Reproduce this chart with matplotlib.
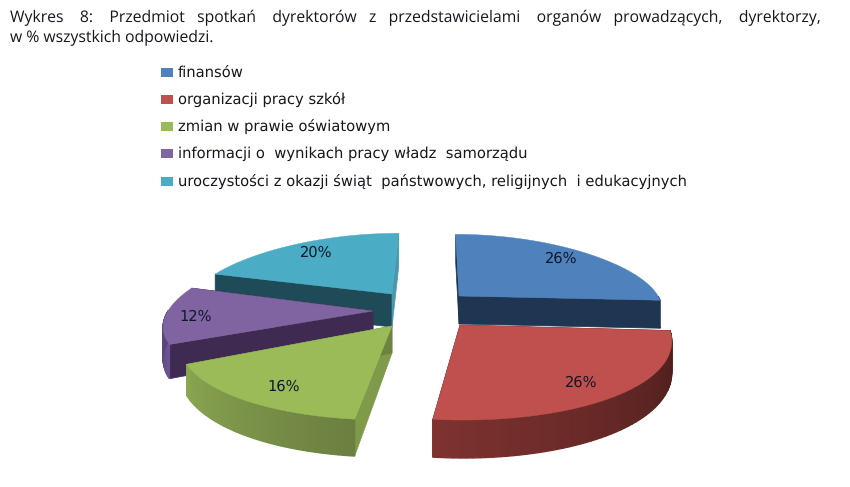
import numpy as np
import matplotlib
matplotlib.use('Agg')
import matplotlib.pyplot as plt
from matplotlib.colors import to_rgb

plt.rcParams['text.hinting'] = 'none'

# values of the pie, in %
labels = ['finansów', 'organizacji pracy szkół', 'zmian w prawie oświatowym',
          'informacji o  wynikach pracy władz  samorządu',
          'uroczystości z okazji świąt  państwowych, religijnych  i edukacyjnych']
values = [26, 26, 16, 12, 20]
pct_text = ['26%', '26%', '16%', '12%', '20%']

colors = ['#4f81bd', '#c0504d', '#9bbb59', '#8064a2', '#4bacc6']
# wall colours: cut face at the start angle, cut face at the end angle, outer wall (start, end)
start_wall = ['#1d3350', '#4f1f1d', '#7f9a48', '#3f2b52', '#1f4a58']
end_wall = ['#1f3552', '#4f1f1d', '#6d8440', '#3f2b52', '#4a97ab']
outer_a = ['#1f3552', '#4a1d1b', '#6b7f40', '#6d5590', '#1f4a58']
outer_b = ['#1f3552', '#7d3230', '#8aa650', '#55407a', '#1f4a58']

# layout of each exploded slice, in pixels
cx = [459, 460, 392, 373, 392]
cy = [296, 325, 326, 311, 294]
rx = [199, 208, 208, 205, 199]
ry = [67, 88, 87, 76, 66]
depth = [28, 30, 27, 30, 33]
front_extra = [0, 8, 10, 10, 0]     # front of the wall looks taller
text_dx = [102, 121, -108, -177, -76]
text_dy = [-38, 57, 60, 5, -42]
draw_order = [4, 0, 3, 1, 2]

# perspective of the 3d view
vanish_x = 437
persp_x = 0.177
persp_lean = 0.15
persp_y = 0.08

fig = plt.figure(figsize=(8.5, 4.87), dpi=100)
ax = fig.add_axes([0, 0, 1, 1])
ax.set_xlim(0, 850)
ax.set_ylim(487, 0)
ax.axis('off')

edges = np.cumsum([0] + values) / sum(values) * 2 * np.pi


def top_pt(i, t):
    v = np.cos(t)
    x = cx[i] + rx[i] * np.sin(t) * (1 - persp_x * v) - (cx[i] - vanish_x) * persp_lean * v
    y = cy[i] - ry[i] * v * (1 - persp_y * v)
    return x, y


def bot_pt(i, t):
    x, y = top_pt(i, t)
    return x, y + depth[i] - front_extra[i] * np.cos(t)


for i in draw_order:
    t0, t1 = edges[i], edges[i + 1]
    # cut faces
    for t, col in [(t0, start_wall[i]), (t1, end_wall[i])]:
        x, y = top_pt(i, t)
        bx, by = bot_pt(i, t)
        ax.fill([cx[i], x, bx, cx[i]], [cy[i], y, by, cy[i] + depth[i]], color=col, lw=0.5)
    # outer wall, only the part facing us
    ts = np.linspace(t0, t1, 60)
    ts = ts[np.cos(ts) < 0.02]
    for k in range(len(ts) - 1):
        f = k / max(len(ts) - 2, 1)
        col = (1 - f) * np.array(to_rgb(outer_a[i])) + f * np.array(to_rgb(outer_b[i]))
        xa, ya = top_pt(i, ts[k])
        xb, yb = top_pt(i, ts[k + 1])
        xc, yc = bot_pt(i, ts[k + 1])
        xd, yd = bot_pt(i, ts[k])
        ax.fill([xa, xb, xc, xd], [ya, yb, yc, yd], color=col, lw=0.9)
    # top face
    ts = np.linspace(t0, t1, 80)
    xs, ys = top_pt(i, ts)
    ax.fill(np.r_[cx[i], xs], np.r_[cy[i], ys], color=colors[i], lw=0.3)
    ax.text(cx[i] + text_dx[i], cy[i] + text_dy[i] + 1, pct_text[i], ha='center', va='center',
            fontsize=10.5, family='DejaVu Sans', color='#10182a')

# legend
leg_y = [72.5, 99.5, 126.5, 153.5, 181.5]
for lab, col, y in zip(labels, colors, leg_y):
    ax.fill([161, 173, 173, 161], [y - 5, y - 5, y + 4, y + 4], color=col, lw=0)
    ax.text(178, y, lab, ha='left', va='center', fontsize=10.6, family='DejaVu Sans', color='#16161e')

# caption
ax.text(10, 17.5, 'Wykres    8:    Przedmiot   spotkań    dyrektorów   z   przedstawicielami    organów   '
        'prowadzących,    dyrektorzy,', ha='left', va='center', fontsize=11.3, family='Open Sans', color='#16161e')
ax.text(10, 38, 'w % wszystkich odpowiedzi.', ha='left', va='center', fontsize=11.3,
        family='Open Sans', color='#16161e')

fig.savefig('out.png', dpi=100)
